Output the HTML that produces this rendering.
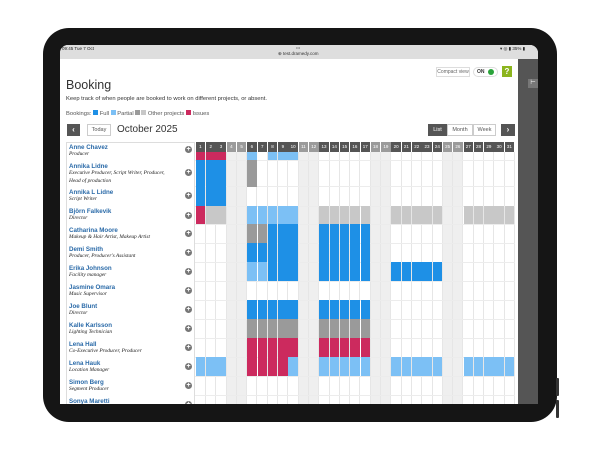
<!DOCTYPE html>
<html><head><meta charset="utf-8"><style>
*{margin:0;padding:0;box-sizing:border-box}
body{width:600px;height:450px;background:#fff;position:relative;overflow:hidden;font-family:"Liberation Sans",sans-serif}
.a{position:absolute}
#tab{left:43px;top:28px;width:514px;height:394px;background:#151515;border-radius:26px}
#scr{left:60px;top:45px;width:478px;height:359px;background:#fff;overflow:hidden;border-radius:8px 8px 0 0}
.hd span{position:absolute;top:142px;height:10px;color:#fff;font-size:4.5px;text-align:center;line-height:10px}
.nm{position:absolute;left:69px;font-size:6.2px;color:#2a6aa8;font-weight:bold}
.rl{position:absolute;left:69px;font-size:5.4px;color:#222;font-style:italic;font-family:"Liberation Serif",serif}
.pl{position:absolute;left:185px;width:7px;height:7px;border-radius:50%;background:#777;color:#fff;font-size:7px;line-height:7px;text-align:center;font-weight:bold}
.btn{position:absolute;border:1px solid #ccc;background:#fff;font-size:5.5px;color:#555;text-align:center}
</style></head><body>
<div class="a" id="tab"></div>
<div class="a" style="left:556px;top:378px;width:3px;height:18px;background:#333;border-radius:1px"></div>
<div class="a" style="left:556px;top:400px;width:3px;height:18px;background:#333;border-radius:1px"></div>
<div class="a" id="scr"></div>
<!-- status bar -->
<div class="a" style="left:60px;top:45px;width:478px;height:14px;background:#dedede;border-radius:8px 8px 0 0"></div>
<div class="a" style="left:62px;top:46px;font-size:4.5px;color:#222">09:45 Tue 7 Oct</div>
<div class="a" style="left:296px;top:45px;font-size:4px;color:#555">•••</div>
<div class="a" style="left:278px;top:51px;font-size:4.5px;color:#333">⊕ test.dramedy.com</div>
<div class="a" style="left:500px;top:46px;font-size:4.5px;color:#222">▾ ◎ ▮ 35% ▮</div>
<!-- right sidebar -->
<div class="a" style="left:518px;top:59px;width:20px;height:345px;background:#555"></div>
<div class="a" style="left:528px;top:79px;width:10px;height:9px;background:#777;color:#fff;font-size:6px;line-height:9px;text-align:center">⊢</div>
<!-- header -->
<div class="a" style="left:66px;top:78px;font-size:12.5px;color:#333">Booking</div>
<div class="a" style="left:66px;top:96px;font-size:5.8px;color:#333">Keep track of when people are booked to work on different projects, or absent.</div>
<div class="a" style="left:66px;top:110px;font-size:5.8px;color:#555;white-space:nowrap">Bookings: <span style="display:inline-block;width:5px;height:5px;background:#1e90e6"></span> Full <span style="display:inline-block;width:5px;height:5px;background:#7cc0f5"></span> Partial <span style="display:inline-block;width:5px;height:5px;background:#9a9a9a"></span><span style="display:inline-block;width:5px;height:5px;background:#c8c8c8;margin-left:1px"></span> Other projects <span style="display:inline-block;width:5px;height:5px;background:#cc2a5e"></span> Issues</div>
<div class="a" style="left:436px;top:67px;width:34px;height:10px;border:1px solid #ddd;font-size:5px;color:#666;line-height:8px;text-align:center">Compact view</div>
<div class="a" style="left:473px;top:67px;width:25px;height:10px;border:1px solid #ddd;border-radius:5px;font-size:5px;color:#333;line-height:8px;padding-left:3px;font-weight:bold">ON</div>
<div class="a" style="left:488px;top:69px;width:6px;height:6px;border-radius:50%;background:#2aa33a"></div>
<div class="a" style="left:502px;top:66px;width:10px;height:11px;background:#8cb51e;color:#fff;font-size:8px;font-weight:bold;line-height:11px;text-align:center">?</div>
<!-- nav -->
<div class="a" style="left:67px;top:124px;width:13px;height:12px;background:#555;color:#fff;font-size:8px;line-height:12px;text-align:center;font-weight:bold">‹</div>
<div class="btn" style="left:87px;top:124px;width:24px;height:12px;line-height:10px">Today</div>
<div class="a" style="left:117px;top:124px;font-size:10px;color:#333">October 2025</div>
<div class="a" style="left:428px;top:124px;width:19px;height:12px;background:#555;color:#fff;font-size:5.5px;line-height:12px;text-align:center">List</div>
<div class="btn" style="left:447px;top:124px;width:26px;height:12px;line-height:10px">Month</div>
<div class="btn" style="left:473px;top:124px;width:23px;height:12px;line-height:10px">Week</div>
<div class="a" style="left:501px;top:124px;width:14px;height:12px;background:#555;color:#fff;font-size:8px;line-height:12px;text-align:center;font-weight:bold">›</div>
<!-- left panel -->
<div class="a" style="left:66px;top:142px;width:129px;height:262px;border:1px solid #ddd;border-bottom:none;background:#fff"></div>
<div id="grid"></div>
<div class="hd" id="hd">
<span>1</span><span>2</span><span>3</span><span>4</span><span>5</span><span>6</span><span>7</span><span>8</span><span>9</span><span>10</span><span>11</span><span>12</span><span>13</span><span>14</span><span>15</span><span>16</span><span>17</span><span>18</span><span>19</span><span>20</span><span>21</span><span>22</span><span>23</span><span>24</span><span>25</span><span>26</span><span>27</span><span>28</span><span>29</span><span>30</span><span>31</span>
</div>
<div id="names">
<div class="nm" style="top:144px">Anne Chavez</div><div class="rl" style="top:151px">Producer</div>
<div class="nm" style="top:163px">Annika Lidne</div><div class="rl" style="top:170px">Executive Producer, Script Writer, Producer,</div><div class="rl" style="top:178px">Head of production</div>
<div class="nm" style="top:189px">Annika L Lidne</div><div class="rl" style="top:196px">Script Writer</div>
<div class="nm" style="top:208px">Björn Falkevik</div><div class="rl" style="top:215px">Director</div>
<div class="nm" style="top:227px">Catharina Moore</div><div class="rl" style="top:234px">Makeup &amp; Hair Artist, Makeup Artist</div>
<div class="nm" style="top:246px">Demi Smith</div><div class="rl" style="top:253px">Producer, Producer's Assistant</div>
<div class="nm" style="top:265px">Erika Johnson</div><div class="rl" style="top:272px">Facility manager</div>
<div class="nm" style="top:284px">Jasmine Omara</div><div class="rl" style="top:291px">Music Supervisor</div>
<div class="nm" style="top:303px">Joe Blunt</div><div class="rl" style="top:310px">Director</div>
<div class="nm" style="top:322px">Kalle Karlsson</div><div class="rl" style="top:329px">Lighting Technician</div>
<div class="nm" style="top:341px">Lena Hall</div><div class="rl" style="top:348px">Co-Executive Producer, Producer</div>
<div class="nm" style="top:360px">Lena Hauk</div><div class="rl" style="top:367px">Location Manager</div>
<div class="nm" style="top:379px">Simon Berg</div><div class="rl" style="top:386px">Segment Producer</div>
<div class="nm" style="top:398px">Sonya Maretti</div>
</div>
<div id="pl"></div>
<!-- bottom bezel cover -->
<div class="a" style="left:60px;top:404px;width:478px;height:4px;background:#151515"></div>
<script>
var X0=195.7,W=10.3,we=[4,5,11,12,18,19,25,26];
function cx(d){return X0+(d-1)*W}
var h=document.querySelectorAll('#hd span');
h.forEach(function(s,i){var d=i+1;s.style.left=cx(d)+'px';s.style.width=(W-0.8)+'px';s.style.background=we.indexOf(d)>=0?'#9b9b9b':'#555';});
var g='';
// grid background
for(var d=1;d<=31;d++){g+='<div class="a" style="left:'+cx(d)+'px;top:152px;width:'+W+'px;height:252px;background:'+(we.indexOf(d)>=0?'#efefef':'#fff')+';border-right:1px solid #e6e6e6"></div>';}
var R=[[152,160],[160,186],[186,206],[206,224],[224,243],[243,262],[262,281],[281,300],[300,319],[319,338],[338,357],[357,376],[376,395],[395,414]];
for(var i=1;i<R.length;i++)g+='<div class="a" style="left:195px;top:'+R[i][0]+'px;width:320px;height:1px;background:#ececec"></div>';
var F='#1e90e6',P='#7cc0f5',D='#9a9a9a',L='#c8c8c8',I='#cc2a5e';
function rg(a,b){var r=[];for(var k=a;k<=b;k++)r.push(k);return r}
var data=[
[0,I,rg(1,3)],[0,P,[6,8,9,10]],
[1,F,rg(1,3)],[1,D,[6],160,187],
[2,F,rg(1,3)],
[3,I,[1]],[3,L,[2,3,13,14,15,16,17,20,21,22,23,24,27,28,29,30,31]],[3,P,rg(6,10)],
[4,D,[6,7]],[4,F,rg(8,10).concat(rg(13,17))],
[5,F,rg(6,10).concat(rg(13,17))],
[6,P,[6,7]],[6,F,rg(8,10).concat(rg(13,17),rg(20,24))],
[8,F,rg(6,10).concat(rg(13,17))],
[9,D,rg(6,10).concat(rg(13,17))],
[10,I,rg(6,10).concat(rg(13,17))],
[11,P,rg(1,3).concat([10],rg(13,17),rg(20,24),rg(27,31))],[11,I,rg(6,9)]
];
data.forEach(function(e){var r=R[e[0]],t=e[3]||r[0],b=e[4]||r[1];e[2].forEach(function(d){g+='<div class="a" style="left:'+cx(d)+'px;top:'+t+'px;width:'+(W-0.7)+'px;height:'+(b-t)+'px;background:'+e[1]+'"></div>';});});
document.getElementById('grid').innerHTML=g;
var p='';R.forEach(function(r,i){if(i==0){p+='<div class="pl" style="top:146px">+</div>';return}var y=(i==1)?169:r[0]+6;p+='<div class="pl" style="top:'+y+'px">+</div>';});
document.getElementById('pl').innerHTML=p;
</script>
</body></html>
